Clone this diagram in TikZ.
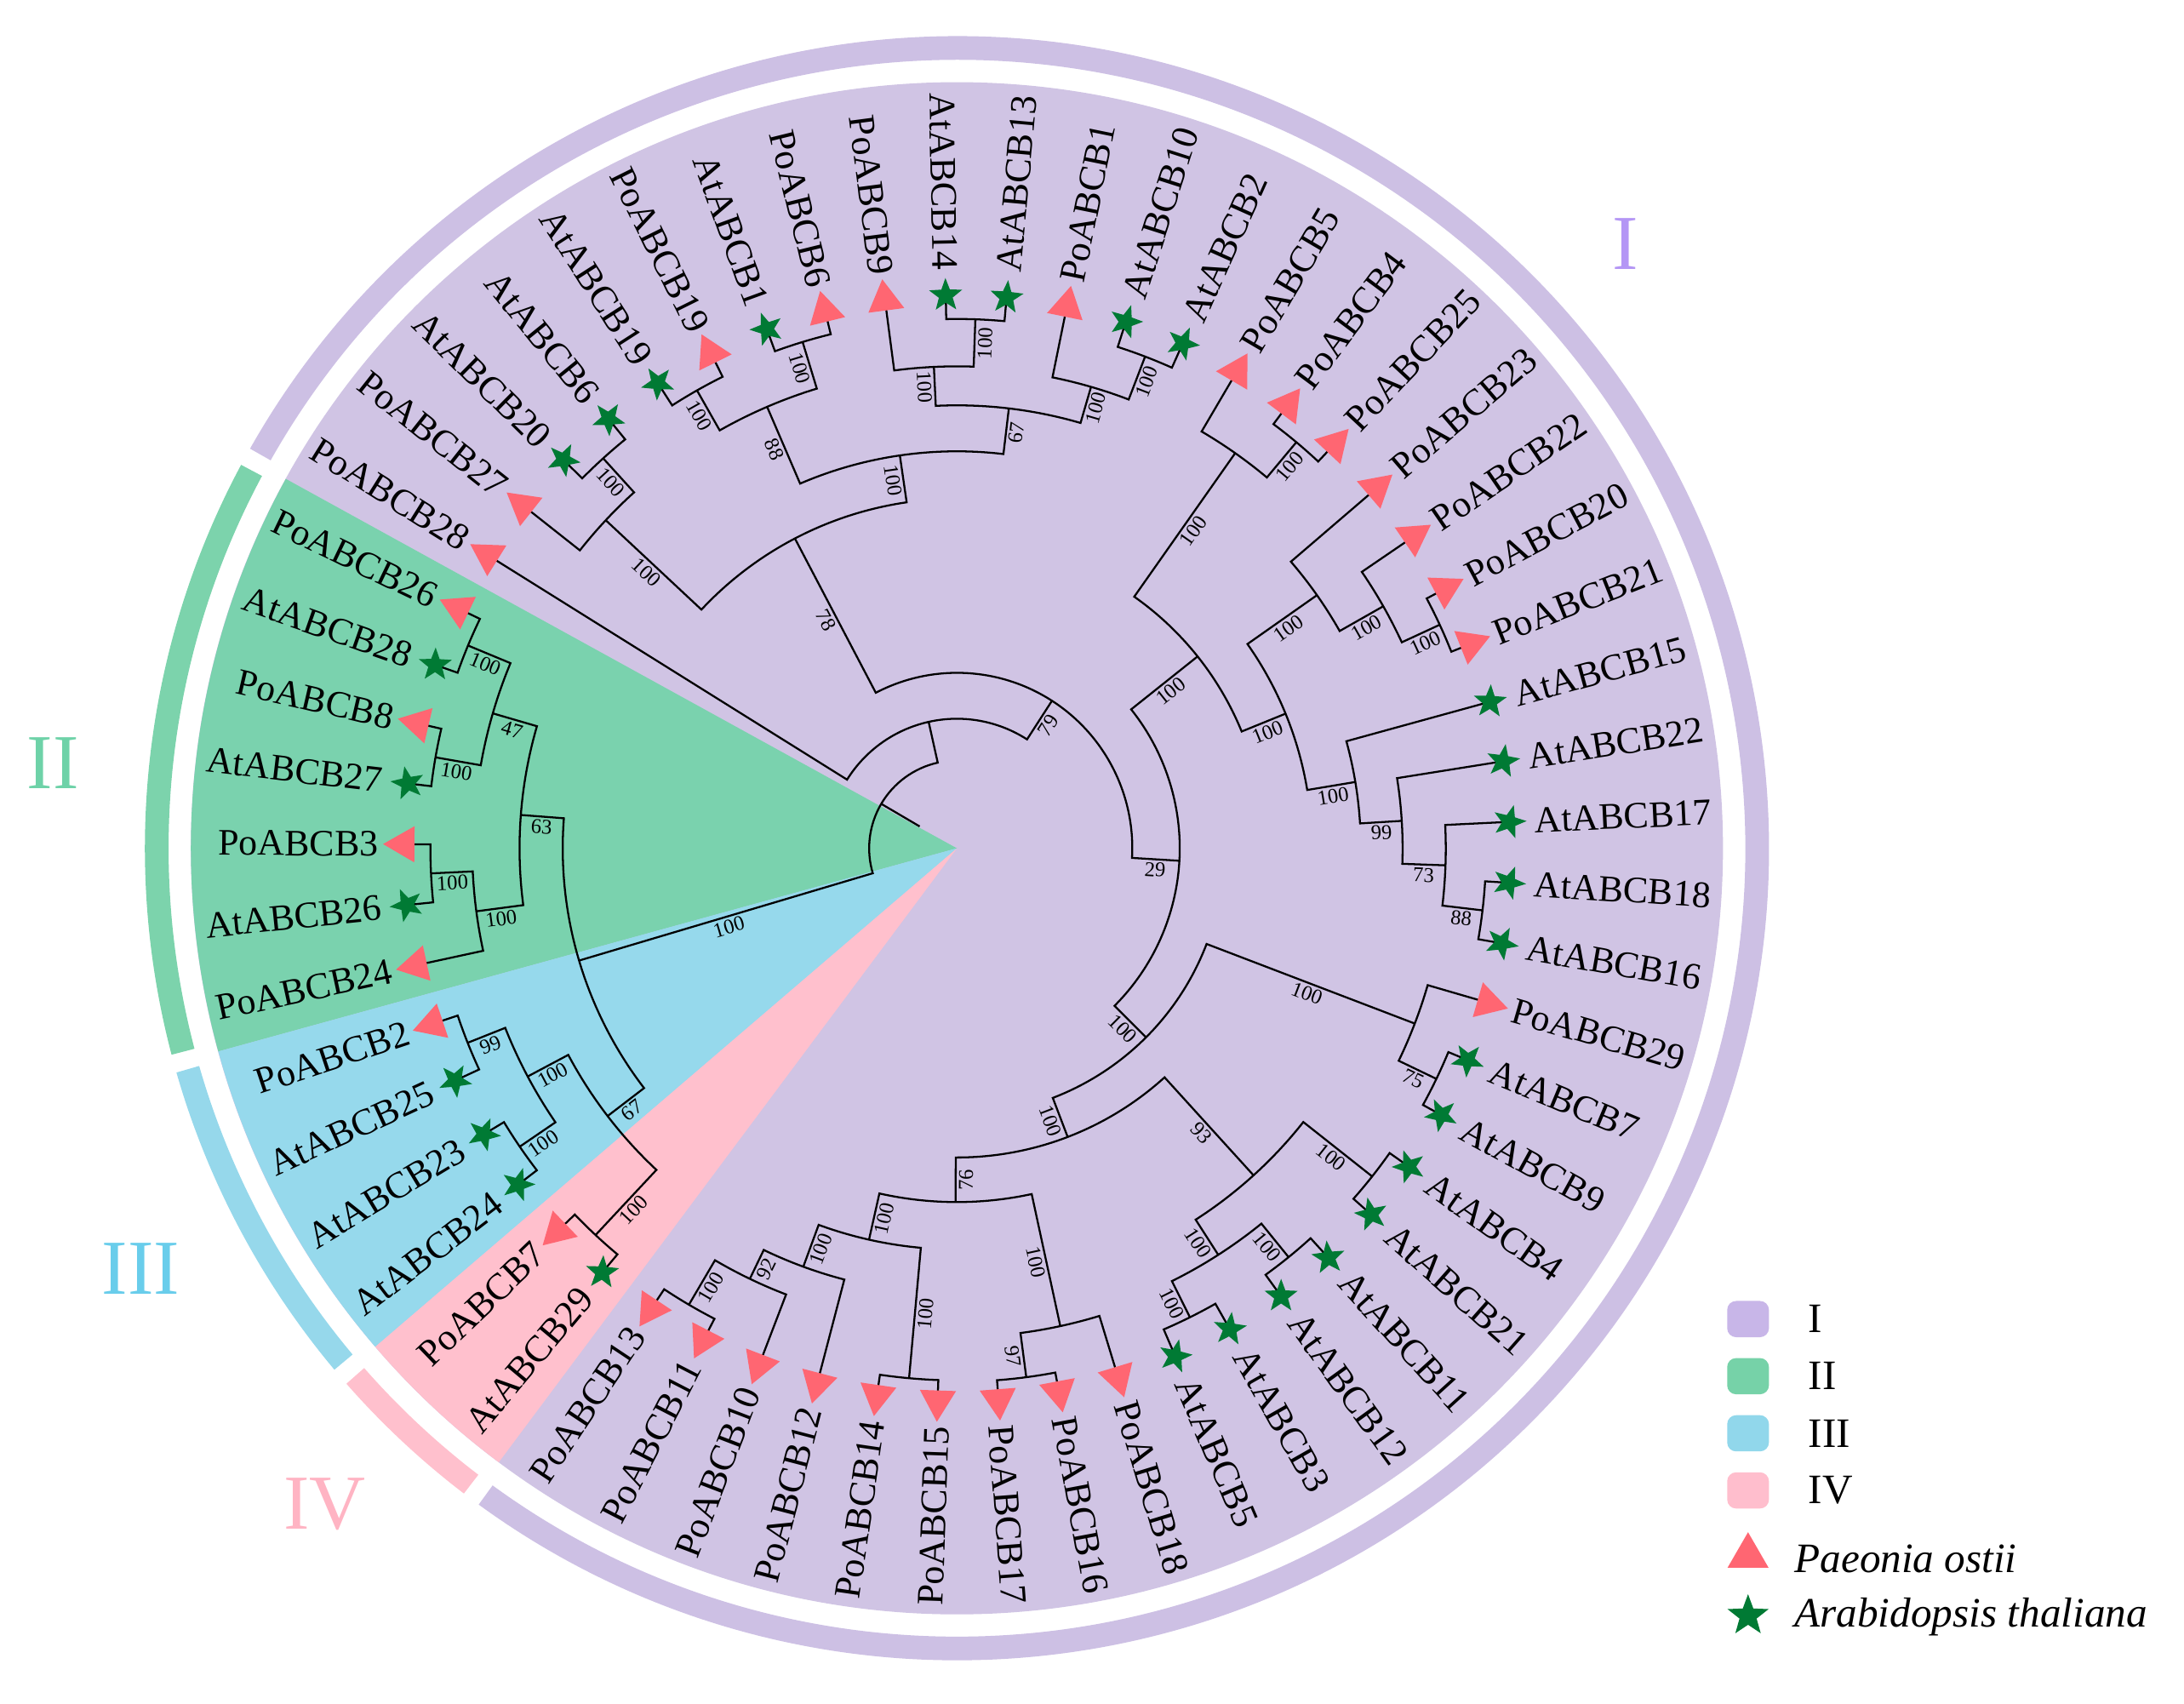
\documentclass[tikz,border=0pt]{standalone}
\usepackage{fontspec}
\setmainfont{Liberation Serif}
\usetikzlibrary{shapes.geometric}
\usetikzlibrary{calc}

\definecolor{discI}{RGB}{208,196,228}
\definecolor{wedgeII}{RGB}{122,210,174}
\definecolor{wedgeIII}{RGB}{150,217,236}
\definecolor{wedgeIV}{RGB}{255,192,205}
\definecolor{ringI}{RGB}{205,192,228}
\definecolor{ringII}{RGB}{124,211,172}
\definecolor{ringIII}{RGB}{150,216,235}
\definecolor{ringIV}{RGB}{255,192,205}
\definecolor{textI}{RGB}{180,150,245}
\definecolor{textII}{RGB}{110,210,168}
\definecolor{textIII}{RGB}{105,205,235}
\definecolor{textIV}{RGB}{255,180,195}
\definecolor{legI}{RGB}{200,182,232}
\definecolor{legII}{RGB}{118,210,168}
\definecolor{legIII}{RGB}{145,215,235}
\definecolor{legIV}{RGB}{255,190,205}
\definecolor{triPink}{RGB}{255,102,114}
\definecolor{starGreen}{RGB}{0,122,52}

\def\upx{0.016365cm}

\tikzset{branch/.style = {line width = 0.65pt}}
\tikzset{ring/.style = {line width = 0.278cm}}
\tikzset{clade/.style = {to path = {let \p1 = (\tikztostart), \p2 = (\tikztotarget),
      \n1 = {veclen(\x1,\y1)}, \n2 = {atan2(\y1,\x1)}, \n3 = {atan2(\y2,\x2)},
      \n4 = {\n3-\n2+360*((\n3-\n2) < -180)-360*((\n3-\n2) > 180)}
      in arc [start angle = \n2, delta angle = \n4, radius = \n1] -- (\tikztotarget) \tikztonodes}}}
\tikzset{boot/.style = {font = \fontsize{7}{8}\selectfont, sloped, below, inner sep = 0.8pt}}
\tikzset{leaf/.style = {font = \fontsize{12.5}{14}\selectfont, inner sep = 0pt}}
\tikzset{paeonia/.style = {regular polygon, regular polygon sides = 3, fill = triPink, inner sep = 0pt, minimum size = 30*\upx}}
\tikzset{arabid/.style = {star, star points = 5, star point ratio = 2.4, fill = starGreen, inner sep = 0pt, minimum size = 25*\upx}}
\tikzset{numeral/.style = {font = \fontsize{26}{30}\selectfont}}
\tikzset{legbox/.style = {rounded corners = 3pt, minimum width = 30*\upx, minimum height = 26*\upx, inner sep = 0pt}}
\tikzset{legtext/.style = {font = \fontsize{14}{16}\selectfont, anchor = west, inner sep = 0pt}}

% name, radius, first child, last child
\newcommand{\cladenode}[4]{\path let \p1 = (#3), \p2 = (#4), \n1 = {atan2(\y1,\x1)}, \n2 = {atan2(\y2,\x2)},
  \n3 = {\n1+0.5*(\n2-\n1+360*((\n2-\n1) < -180)-360*((\n2-\n1) > 180))} in (\n3:#2) coordinate (#1);}

\def\leaflist{PoABCB28/paeonia, PoABCB27/paeonia, AtABCB20/arabid, AtABCB6/arabid, AtABCB19/arabid,
  PoABCB19/paeonia, AtABCB1/arabid, PoABCB6/paeonia, PoABCB9/paeonia, AtABCB14/arabid, AtABCB13/arabid,
  PoABCB1/paeonia, AtABCB10/arabid, AtABCB2/arabid, PoABCB5/paeonia, PoABCB4/paeonia, PoABCB25/paeonia,
  PoABCB23/paeonia, PoABCB22/paeonia, PoABCB20/paeonia, PoABCB21/paeonia, AtABCB15/arabid, AtABCB22/arabid,
  AtABCB17/arabid, AtABCB18/arabid, AtABCB16/arabid, PoABCB29/paeonia, AtABCB7/arabid, AtABCB9/arabid,
  AtABCB4/arabid, AtABCB21/arabid, AtABCB11/arabid, AtABCB12/arabid, AtABCB3/arabid, AtABCB5/arabid,
  PoABCB18/paeonia, PoABCB16/paeonia, PoABCB17/paeonia, PoABCB15/paeonia, PoABCB14/paeonia, PoABCB12/paeonia,
  PoABCB10/paeonia, PoABCB11/paeonia, PoABCB13/paeonia, AtABCB29/arabid, PoABCB7/paeonia, AtABCB24/arabid,
  AtABCB23/arabid, AtABCB25/arabid, PoABCB2/paeonia, PoABCB24/paeonia, AtABCB26/arabid, PoABCB3/paeonia,
  AtABCB27/arabid, PoABCB8/paeonia, AtABCB28/arabid, PoABCB26/paeonia}

\begin{document}
\begin{tikzpicture}[x = \upx, y = \upx]
      \useasboundingbox (-687,-614) rectangle (881,609);

      % clade background
      \fill [discI] (0,0) circle [radius = 550];
      \fill [wedgeII] (0,0) -- (151.17:550) arc [start angle = 151.17, end angle = 195.38, radius = 550] -- cycle;
      \fill [wedgeIII] (0,0) -- (195.38:550) arc [start angle = 195.38, end angle = 220.6, radius = 550] -- cycle;
      \fill [wedgeIV] (0,0) -- (220.6:550) arc [start angle = 220.6, end angle = 233.27, radius = 550] -- cycle;

      \draw [ring, ringI] (150.52:574.5) arc [start angle = 150.52, end angle = -126.08, radius = 574.5];
      \draw [ring, ringIV] (-127.38:574.5) arc [start angle = -127.38, end angle = -138.75, radius = 574.5];
      \draw [ring, ringIII] (-140.05:574.5) arc [start angle = -140.05, end angle = -163.97, radius = 574.5];
      \draw [ring, ringII] (-165.27:574.5) arc [start angle = -165.27, end angle = -208.18, radius = 574.5];

      \node [numeral, textI] (cI) at (480,434) {I};
      \node [numeral, textII] (cII) at (-649,61) {II};
      \node [numeral, textIII] (cIII) at (-586,-302) {III};
      \node [numeral, textIV] (cIV) at (-454,-471) {IV};

      % tips
      \foreach \name/\kind [count = \i] in \leaflist {
        \pgfmathsetmacro{\ang}{148-(\i-1)*6.315789}
        \coordinate (\name) at (\ang:404);
      }

      \cladenode{n34}{378}{AtABCB20}{AtABCB6}
      \cladenode{n234}{345}{PoABCB27}{n34}
      \cladenode{n56}{378}{AtABCB19}{PoABCB19}
      \cladenode{n78}{380}{AtABCB1}{PoABCB6}
      \cladenode{nF}{345}{n56}{n78}
      \cladenode{n1011}{380}{AtABCB14}{AtABCB13}
      \cladenode{n911}{346}{PoABCB9}{n1011}
      \cladenode{n1314}{378}{AtABCB10}{AtABCB2}
      \cladenode{n1214}{345}{PoABCB1}{n1314}
      \cladenode{nH}{318}{n911}{n1214}
      \cladenode{nE}{285}{nF}{nH}
      \cladenode{nD}{251}{n234}{nE}
      \cladenode{n1617}{380}{PoABCB4}{PoABCB25}
      \cladenode{nJ}{347}{PoABCB5}{n1617}
      \cladenode{n2021}{382}{PoABCB20}{PoABCB21}
      \cladenode{nM}{352}{PoABCB22}{n2021}
      \cladenode{nL}{316}{PoABCB23}{nM}
      \cladenode{nS}{380}{AtABCB18}{AtABCB16}
      \cladenode{nR}{351}{AtABCB17}{nS}
      \cladenode{nQ}{320}{AtABCB22}{nR}
      \cladenode{nP}{290}{AtABCB15}{nQ}
      \cladenode{nK}{255}{nL}{nP}
      \cladenode{nI}{221}{nJ}{nK}
      \cladenode{nW}{382}{AtABCB7}{AtABCB9}
      \cladenode{nV}{352}{PoABCB29}{nW}
      \cladenode{nAA}{380}{AtABCB4}{AtABCB21}
      \cladenode{nCC}{378}{AtABCB11}{AtABCB12}
      \cladenode{nDD}{376}{AtABCB3}{AtABCB5}
      \cladenode{nBB}{347}{nCC}{nDD}
      \cladenode{nY}{317}{nAA}{nBB}
      \cladenode{nFF}{383}{PoABCB16}{PoABCB17}
      \cladenode{nEE}{351}{PoABCB18}{nFF}
      \cladenode{nHH}{382}{PoABCB15}{PoABCB14}
      \cladenode{nKK}{380}{PoABCB11}{PoABCB13}
      \cladenode{nLL}{343}{PoABCB10}{nKK}
      \cladenode{nII}{320}{PoABCB12}{nLL}
      \cladenode{nGG}{288}{nHH}{nII}
      \cladenode{nZ}{254}{nEE}{nGG}
      \cladenode{nXb}{222}{nY}{nZ}
      \cladenode{nT}{192}{nV}{nXb}
      \cladenode{nG}{160}{nI}{nT}
      \cladenode{nC}{126}{nD}{nG}
      \cladenode{nB}{93}{PoABCB28}{nC}
      \cladenode{nQQ}{380}{PoABCB26}{AtABCB28}
      \cladenode{nRR}{380}{PoABCB8}{AtABCB27}
      \cladenode{nOO}{347}{nQQ}{nRR}
      \cladenode{nSS}{378}{PoABCB3}{AtABCB26}
      \cladenode{nPP}{348}{nSS}{PoABCB24}
      \cladenode{nNN}{314}{nOO}{nPP}
      \cladenode{nWW}{378}{PoABCB2}{AtABCB25}
      \cladenode{nXX}{380}{AtABCB23}{AtABCB24}
      \cladenode{nUU}{349}{nWW}{nXX}
      \cladenode{nVV}{380}{PoABCB7}{AtABCB29}
      \cladenode{nTT}{316}{nUU}{nVV}
      \cladenode{nX}{283}{nNN}{nTT}
      \cladenode{nA}{63}{nB}{nX}
      \path let \p1 = (nA), \n1 = {atan2(\y1,\x1)} in (\n1:31) coordinate (root);

      \draw [branch] (root) -- (nA)
        (nA) to [clade] (nB)
        (nA) to [clade] node [boot] (b-nX) {100} (nX)
        (nB) to [clade] (PoABCB28)
        (nB) to [clade] node [boot] (b-nC) {79} (nC)
        (nC) to [clade] node [boot] (b-nD) {78} (nD)
        (nC) to [clade] node [boot] (b-nG) {29} (nG)
        (nD) to [clade] node [boot] (b-n234) {100} (n234)
        (nD) to [clade] node [boot] (b-nE) {100} (nE)
        (n234) to [clade] (PoABCB27)
        (n234) to [clade] node [boot] (b-n34) {100} (n34)
        (n34) to [clade] (AtABCB20)
        (n34) to [clade] (AtABCB6)
        (nE) to [clade] node [boot] (b-nF) {88} (nF)
        (nE) to [clade] node [boot] (b-nH) {67} (nH)
        (nF) to [clade] node [boot] (b-n56) {100} (n56)
        (nF) to [clade] node [boot] (b-n78) {100} (n78)
        (n56) to [clade] (AtABCB19)
        (n56) to [clade] (PoABCB19)
        (n78) to [clade] (AtABCB1)
        (n78) to [clade] (PoABCB6)
        (nH) to [clade] node [boot] (b-n911) {100} (n911)
        (nH) to [clade] node [boot] (b-n1214) {100} (n1214)
        (n911) to [clade] (PoABCB9)
        (n911) to [clade] node [boot] (b-n1011) {100} (n1011)
        (n1011) to [clade] (AtABCB14)
        (n1011) to [clade] (AtABCB13)
        (n1214) to [clade] (PoABCB1)
        (n1214) to [clade] node [boot] (b-n1314) {100} (n1314)
        (n1314) to [clade] (AtABCB10)
        (n1314) to [clade] (AtABCB2)
        (nG) to [clade] node [boot] (b-nI) {100} (nI)
        (nG) to [clade] node [boot] (b-nT) {100} (nT)
        (nI) to [clade] node [boot] (b-nJ) {100} (nJ)
        (nI) to [clade] node [boot] (b-nK) {100} (nK)
        (nJ) to [clade] (PoABCB5)
        (nJ) to [clade] node [boot] (b-n1617) {100} (n1617)
        (n1617) to [clade] (PoABCB4)
        (n1617) to [clade] (PoABCB25)
        (nK) to [clade] node [boot] (b-nL) {100} (nL)
        (nK) to [clade] node [boot] (b-nP) {100} (nP)
        (nL) to [clade] (PoABCB23)
        (nL) to [clade] node [boot] (b-nM) {100} (nM)
        (nM) to [clade] (PoABCB22)
        (nM) to [clade] node [boot] (b-n2021) {100} (n2021)
        (n2021) to [clade] (PoABCB20)
        (n2021) to [clade] (PoABCB21)
        (nP) to [clade] (AtABCB15)
        (nP) to [clade] node [boot] (b-nQ) {99} (nQ)
        (nQ) to [clade] (AtABCB22)
        (nQ) to [clade] node [boot] (b-nR) {73} (nR)
        (nR) to [clade] (AtABCB17)
        (nR) to [clade] node [boot] (b-nS) {88} (nS)
        (nS) to [clade] (AtABCB18)
        (nS) to [clade] (AtABCB16)
        (nT) to [clade] node [boot] (b-nV) {100} (nV)
        (nT) to [clade] node [boot] (b-nXb) {100} (nXb)
        (nV) to [clade] (PoABCB29)
        (nV) to [clade] node [boot] (b-nW) {75} (nW)
        (nW) to [clade] (AtABCB7)
        (nW) to [clade] (AtABCB9)
        (nXb) to [clade] node [boot] (b-nY) {93} (nY)
        (nXb) to [clade] node [boot] (b-nZ) {76} (nZ)
        (nY) to [clade] node [boot] (b-nAA) {100} (nAA)
        (nY) to [clade] node [boot] (b-nBB) {100} (nBB)
        (nAA) to [clade] (AtABCB4)
        (nAA) to [clade] (AtABCB21)
        (nBB) to [clade] node [boot] (b-nCC) {100} (nCC)
        (nBB) to [clade] node [boot] (b-nDD) {100} (nDD)
        (nCC) to [clade] (AtABCB11)
        (nCC) to [clade] (AtABCB12)
        (nDD) to [clade] (AtABCB3)
        (nDD) to [clade] (AtABCB5)
        (nZ) to [clade] node [boot] (b-nEE) {100} (nEE)
        (nZ) to [clade] node [boot] (b-nGG) {100} (nGG)
        (nEE) to [clade] (PoABCB18)
        (nEE) to [clade] node [boot] (b-nFF) {97} (nFF)
        (nFF) to [clade] (PoABCB16)
        (nFF) to [clade] (PoABCB17)
        (nGG) to [clade] node [boot] (b-nHH) {100} (nHH)
        (nGG) to [clade] node [boot] (b-nII) {100} (nII)
        (nHH) to [clade] (PoABCB15)
        (nHH) to [clade] (PoABCB14)
        (nII) to [clade] (PoABCB12)
        (nII) to [clade] node [boot] (b-nLL) {92} (nLL)
        (nLL) to [clade] (PoABCB10)
        (nLL) to [clade] node [boot] (b-nKK) {100} (nKK)
        (nKK) to [clade] (PoABCB11)
        (nKK) to [clade] (PoABCB13)
        (nX) to [clade] node [boot] (b-nNN) {63} (nNN)
        (nX) to [clade] node [boot] (b-nTT) {67} (nTT)
        (nNN) to [clade] node [boot] (b-nOO) {47} (nOO)
        (nNN) to [clade] node [boot] (b-nPP) {100} (nPP)
        (nOO) to [clade] node [boot] (b-nQQ) {100} (nQQ)
        (nOO) to [clade] node [boot] (b-nRR) {100} (nRR)
        (nQQ) to [clade] (PoABCB26)
        (nQQ) to [clade] (AtABCB28)
        (nRR) to [clade] (PoABCB8)
        (nRR) to [clade] (AtABCB27)
        (nPP) to [clade] node [boot] (b-nSS) {100} (nSS)
        (nPP) to [clade] (PoABCB24)
        (nSS) to [clade] (PoABCB3)
        (nSS) to [clade] (AtABCB26)
        (nTT) to [clade] node [boot] (b-nUU) {100} (nUU)
        (nTT) to [clade] node [boot] (b-nVV) {100} (nVV)
        (nUU) to [clade] node [boot] (b-nWW) {99} (nWW)
        (nUU) to [clade] node [boot] (b-nXX) {100} (nXX)
        (nWW) to [clade] (PoABCB2)
        (nWW) to [clade] (AtABCB25)
        (nXX) to [clade] (AtABCB23)
        (nXX) to [clade] (AtABCB24)
        (nVV) to [clade] (PoABCB7)
        (nVV) to [clade] (AtABCB29);

      % markers and names
      \foreach \name/\kind [count = \i] in \leaflist {
        \pgfmathsetmacro{\ang}{148-(\i-1)*6.315789}
        \pgfmathtruncatemacro{\isright}{cos(\ang) >= 0}
        \node [\kind, rotate = \ang-90] (m-\name) at (\ang:397) {};
        \ifnum\isright=1
          \node [leaf, anchor = west, rotate = \ang] (t-\name) at (\ang:415) {\name};
        \else
          \node [leaf, anchor = east, rotate = \ang+180] (t-\name) at (\ang:415) {\name};
        \fi
      }

      % legend
      \node [legbox, fill = legI] (kI) at (568,-338) {};
      \node [legbox, fill = legII] (kII) at (568,-379) {};
      \node [legbox, fill = legIII] (kIII) at (568,-420) {};
      \node [legbox, fill = legIV] (kIV) at (568,-461) {};
      \node [paeonia, minimum size = 34*\upx] (kPo) at (568,-508) {};
      \node [arabid, minimum size = 31*\upx] (kAt) at (568,-551) {};
      \node [legtext] (lI) at (611,-338) {I};
      \node [legtext] (lII) at (611,-379) {II};
      \node [legtext] (lIII) at (611,-420) {III};
      \node [legtext] (lIV) at (611,-461) {IV};
      \node [legtext] (lPo) at (601,-510) {\itshape Paeonia ostii};
      \node [legtext] (lAt) at (601,-552) {\itshape Arabidopsis thaliana};
\end{tikzpicture}
\end{document}
